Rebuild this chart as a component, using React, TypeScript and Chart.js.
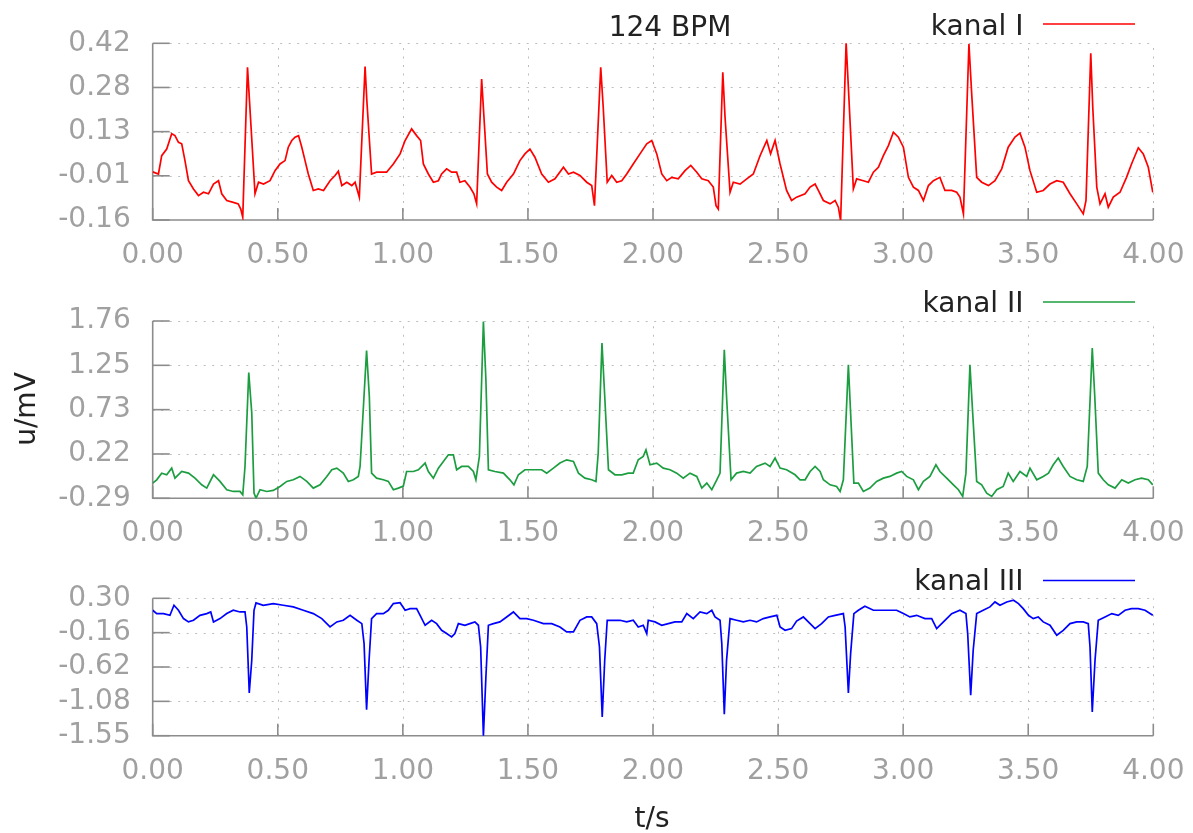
import React, { useEffect, useRef } from 'react';
import { Chart, registerables } from 'chart.js';

Chart.register(...registerables);

// ---------- data ----------
const xTickValues = [0, 0.5, 1, 1.5, 2, 2.5, 3, 3.5, 4];
const xTickLabels = ['0.00', '0.50', '1.00', '1.50', '2.00', '2.50', '3.00', '3.50', '4.00'];

const t1 = [0.000,0.023,0.036,0.056,0.076,0.089,0.103,0.116,0.129,0.143,0.163,0.183,0.203,0.223,0.243,0.263,0.276,0.296,0.322,0.342,0.352,0.360,0.379,0.409,0.423,0.443,0.469,0.489,0.509,0.529,0.542,0.556,0.569,0.583,0.596,0.609,0.622,0.642,0.662,0.683,0.709,0.729,0.742,0.756,0.776,0.796,0.809,0.826,0.849,0.856,0.875,0.895,0.935,0.962,0.989,1.009,1.035,1.055,1.071,1.082,1.102,1.122,1.142,1.155,1.175,1.195,1.215,1.228,1.248,1.268,1.284,1.295,1.315,1.338,1.355,1.375,1.395,1.415,1.442,1.468,1.488,1.508,1.528,1.555,1.582,1.608,1.642,1.662,1.682,1.708,1.735,1.755,1.766,1.791,1.801,1.817,1.835,1.855,1.875,1.895,1.921,1.948,1.975,1.995,2.015,2.035,2.055,2.075,2.101,2.128,2.151,2.175,2.195,2.221,2.241,2.252,2.261,2.279,2.288,2.308,2.321,2.348,2.375,2.401,2.428,2.455,2.470,2.488,2.508,2.534,2.554,2.574,2.608,2.628,2.648,2.661,2.681,2.708,2.728,2.741,2.750,2.772,2.781,2.801,2.814,2.841,2.861,2.881,2.901,2.921,2.941,2.961,2.981,3.001,3.021,3.041,3.061,3.081,3.101,3.121,3.147,3.167,3.194,3.214,3.227,3.241,3.263,3.274,3.294,3.314,3.341,3.367,3.394,3.420,3.447,3.467,3.487,3.507,3.534,3.560,3.587,3.614,3.640,3.667,3.694,3.720,3.731,3.750,3.758,3.774,3.787,3.807,3.820,3.840,3.867,3.893,3.913,3.940,3.960,3.980,3.998];
const v1 = [0.000,-0.007,0.053,0.075,0.125,0.119,0.097,0.092,0.037,-0.029,-0.056,-0.078,-0.067,-0.072,-0.040,-0.029,-0.072,-0.094,-0.100,-0.105,-0.122,-0.149,0.343,-0.072,-0.034,-0.040,-0.029,0.004,0.026,0.037,0.081,0.103,0.114,0.119,0.081,0.037,-0.007,-0.061,-0.056,-0.061,-0.029,-0.012,0.002,-0.045,-0.034,-0.045,-0.034,-0.083,0.346,0.234,-0.007,-0.001,-0.001,0.026,0.059,0.103,0.141,0.119,0.103,0.026,-0.007,-0.034,-0.029,-0.007,0.010,-0.001,-0.001,-0.034,-0.029,-0.050,-0.072,-0.105,0.305,-0.007,-0.034,-0.050,-0.061,-0.034,-0.007,0.037,0.059,0.075,0.048,-0.007,-0.034,-0.023,0.015,-0.007,-0.001,-0.012,-0.034,-0.045,-0.111,0.343,0.212,-0.034,-0.012,-0.034,-0.029,-0.007,0.026,0.059,0.092,0.103,0.059,-0.007,-0.029,-0.018,-0.023,0.004,0.021,-0.001,-0.023,-0.029,-0.050,-0.111,-0.122,0.327,0.179,-0.067,-0.034,-0.040,-0.023,-0.007,0.053,0.103,0.059,0.103,0.026,-0.061,-0.094,-0.083,-0.072,-0.050,-0.040,-0.061,-0.094,-0.105,-0.094,-0.116,-0.160,0.425,0.278,-0.056,-0.023,-0.029,-0.034,-0.001,0.015,0.053,0.086,0.130,0.114,0.081,-0.018,-0.050,-0.061,-0.094,-0.045,-0.029,-0.018,-0.061,-0.061,-0.067,-0.083,-0.138,0.420,0.256,-0.018,-0.034,-0.045,-0.029,0.010,0.081,0.114,0.127,0.081,0.004,-0.067,-0.061,-0.040,-0.029,-0.034,-0.072,-0.105,-0.138,-0.094,0.389,0.212,-0.050,-0.105,-0.072,-0.116,-0.083,-0.067,-0.018,0.026,0.079,0.059,0.015,-0.067];

const t2 = [0.000,0.016,0.036,0.056,0.076,0.089,0.116,0.143,0.169,0.196,0.216,0.243,0.269,0.296,0.322,0.349,0.360,0.369,0.384,0.396,0.405,0.413,0.429,0.456,0.482,0.509,0.536,0.562,0.589,0.616,0.642,0.669,0.696,0.716,0.736,0.762,0.782,0.802,0.822,0.829,0.855,0.866,0.875,0.895,0.922,0.942,0.962,0.982,1.002,1.015,1.042,1.062,1.089,1.102,1.122,1.142,1.162,1.182,1.202,1.215,1.235,1.262,1.282,1.292,1.306,1.322,1.332,1.342,1.368,1.402,1.428,1.444,1.462,1.488,1.522,1.555,1.575,1.602,1.628,1.655,1.682,1.702,1.728,1.755,1.772,1.781,1.796,1.805,1.822,1.848,1.875,1.901,1.921,1.941,1.961,1.972,1.988,2.015,2.041,2.068,2.095,2.121,2.148,2.175,2.195,2.215,2.235,2.255,2.268,2.285,2.294,2.312,2.334,2.361,2.388,2.414,2.448,2.468,2.488,2.508,2.534,2.568,2.588,2.608,2.628,2.648,2.668,2.681,2.708,2.734,2.748,2.761,2.781,2.790,2.803,2.821,2.841,2.867,2.894,2.921,2.947,2.974,2.994,3.014,3.041,3.061,3.081,3.107,3.131,3.147,3.174,3.201,3.221,3.238,3.251,3.267,3.278,3.294,3.314,3.334,3.354,3.374,3.400,3.420,3.440,3.467,3.494,3.507,3.534,3.560,3.581,3.600,3.620,3.640,3.667,3.694,3.720,3.736,3.756,3.766,3.780,3.800,3.820,3.847,3.874,3.900,3.927,3.953,3.980,3.998];
const v2 = [-0.116,-0.078,-0.001,-0.020,0.057,-0.059,0.018,-0.001,-0.059,-0.136,-0.174,-0.020,-0.097,-0.193,-0.213,-0.213,-0.251,0.076,1.163,0.693,-0.232,-0.290,-0.193,-0.213,-0.201,-0.155,-0.097,-0.078,-0.039,-0.097,-0.174,-0.136,-0.039,0.038,0.057,-0.001,-0.097,-0.078,-0.039,0.076,1.417,0.885,-0.001,-0.059,-0.078,-0.097,-0.193,-0.174,-0.150,0.018,0.018,0.038,0.115,0.018,-0.059,0.057,0.134,0.211,0.211,0.038,0.076,0.076,0.018,-0.078,0.192,1.752,1.078,0.038,0.018,-0.001,-0.078,-0.136,-0.020,0.038,0.038,0.038,-0.001,0.057,0.115,0.153,0.134,-0.001,-0.059,-0.078,-0.097,0.230,1.502,1.001,0.038,-0.020,-0.020,-0.001,-0.001,0.153,0.192,0.269,0.096,0.115,0.057,0.038,-0.001,-0.059,-0.001,-0.039,-0.174,-0.116,-0.193,-0.078,-0.001,1.425,0.885,-0.078,-0.001,0.018,-0.001,0.076,0.115,0.076,0.173,0.057,0.038,-0.020,-0.078,-0.078,0.018,0.076,0.018,-0.078,-0.136,-0.155,-0.213,-0.078,1.251,0.693,-0.116,-0.116,-0.213,-0.174,-0.097,-0.059,-0.039,-0.001,0.018,-0.039,-0.078,-0.193,-0.097,-0.039,0.096,0.018,-0.059,-0.136,-0.193,-0.270,-0.001,1.251,0.693,-0.097,-0.136,-0.232,-0.270,-0.193,-0.155,-0.001,-0.097,0.018,-0.039,0.057,-0.078,-0.039,-0.001,0.096,0.173,0.076,-0.039,-0.078,-0.097,0.076,1.444,0.885,-0.001,-0.078,-0.136,-0.174,-0.078,-0.116,-0.078,-0.059,-0.078,-0.136];

const t3 = [0.000,0.016,0.043,0.069,0.085,0.103,0.123,0.143,0.163,0.189,0.216,0.232,0.243,0.269,0.296,0.322,0.349,0.369,0.376,0.386,0.396,0.405,0.413,0.442,0.482,0.522,0.562,0.602,0.642,0.676,0.709,0.736,0.762,0.789,0.816,0.836,0.845,0.855,0.865,0.875,0.895,0.922,0.942,0.962,0.989,1.009,1.029,1.055,1.069,1.089,1.115,1.135,1.155,1.175,1.195,1.208,1.222,1.248,1.268,1.288,1.302,1.311,1.322,1.332,1.342,1.362,1.388,1.415,1.442,1.468,1.495,1.522,1.562,1.595,1.628,1.655,1.682,1.708,1.735,1.755,1.775,1.786,1.797,1.807,1.817,1.841,1.868,1.895,1.921,1.941,1.961,1.975,1.981,2.008,2.035,2.061,2.088,2.115,2.135,2.161,2.188,2.215,2.235,2.248,2.268,2.275,2.285,2.294,2.308,2.334,2.361,2.388,2.414,2.441,2.468,2.495,2.508,2.528,2.554,2.574,2.601,2.621,2.648,2.674,2.701,2.728,2.761,2.768,2.781,2.790,2.803,2.821,2.847,2.881,2.914,2.947,2.974,3.001,3.027,3.054,3.087,3.114,3.134,3.161,3.194,3.227,3.251,3.258,3.270,3.280,3.294,3.320,3.347,3.367,3.387,3.414,3.441,3.461,3.480,3.501,3.520,3.540,3.560,3.587,3.614,3.640,3.667,3.694,3.720,3.740,3.747,3.756,3.767,3.780,3.807,3.834,3.860,3.887,3.913,3.940,3.967,3.998];
const v3 = [0.143,0.098,0.098,0.075,0.210,0.143,0.031,-0.014,0.008,0.075,0.098,0.120,-0.014,0.031,0.098,0.143,0.120,0.120,-0.082,-0.971,-0.531,0.143,0.242,0.210,0.233,0.210,0.188,0.143,0.098,0.031,-0.082,-0.014,0.008,0.075,0.008,-0.037,-0.306,-1.195,-0.531,0.031,0.098,0.098,0.143,0.233,0.245,0.143,0.165,0.165,0.075,-0.059,0.008,-0.037,-0.127,-0.171,-0.216,-0.171,-0.037,-0.059,-0.037,-0.014,-0.059,-0.351,-1.550,-0.755,-0.059,-0.037,-0.014,0.053,0.120,0.031,0.031,0.008,-0.037,-0.037,-0.082,-0.149,-0.149,0.008,0.053,0.053,-0.037,-0.351,-1.294,-0.531,0.008,0.008,0.008,-0.014,0.008,-0.082,-0.059,-0.171,0.008,-0.014,-0.059,-0.037,-0.014,-0.014,0.098,0.031,0.120,0.098,0.143,0.053,0.008,-0.306,-1.258,-0.531,0.031,0.008,-0.014,0.008,-0.014,0.031,0.053,0.075,-0.082,-0.127,-0.104,-0.003,0.053,-0.014,-0.104,-0.037,0.053,0.075,0.098,-0.082,-0.971,-0.441,0.098,0.143,0.197,0.143,0.143,0.143,0.143,0.098,0.053,0.075,0.031,0.031,-0.104,-0.014,0.098,0.143,0.098,-0.171,-1.002,-0.396,0.098,0.143,0.188,0.255,0.210,0.255,0.278,0.233,0.165,0.075,0.031,0.053,-0.014,-0.059,-0.194,-0.127,-0.037,-0.014,-0.014,-0.037,-0.351,-1.227,-0.531,0.008,0.053,0.098,0.075,0.143,0.165,0.165,0.143,0.075];

const yRange1 = [-0.158, 0.422];
const yTickLabels1 = ['-0.16', '-0.01', '0.13', '0.28', '0.42'];
const yRange2 = [-0.292, 1.758];
const yTickLabels2 = ['-0.29', '0.22', '0.73', '1.25', '1.76'];
const yRange3 = [-1.546, 0.304];
const yTickLabels3 = ['-1.55', '-1.08', '-0.62', '-0.16', '0.30'];

const seriesNames = ['kanal I', 'kanal II', 'kanal III'];
const titleText = '124 BPM';
const yTitle = 'u/mV';
const xTitle = 't/s';

// ---------- style / layout ----------
const W = 1193;
const H = 833;
const FONT = "'DejaVu Sans', sans-serif";
const FS = 28;
const TICK_COLOR = '#a0a0a0';
const TEXT_COLOR = '#222222';
const AXIS_COLOR = '#8c8c8c';
const GRID_COLOR = '#bdbdbd';
const LEFT = 152.7;
const RIGHT = 1153.3;
const XAXIS_H = 60;

type Panel = {
  t: number[]; v: number[]; range: number[]; labels: string[];
  color: string; name: string; top: number; bottom: number;
  legendBase: number; legendLine: number;
  extra: 'title' | 'ytitle' | 'xtitle';
};

const panels: Panel[] = [
  { t: t1, v: v1, range: yRange1, labels: yTickLabels1, color: '#ff0000', name: seriesNames[0], top: 43.3, bottom: 220, legendBase: 35, legendLine: 24, extra: 'title' },
  { t: t2, v: v2, range: yRange2, labels: yTickLabels2, color: '#1c9e40', name: seriesNames[1], top: 321, bottom: 498.3, legendBase: 311.5, legendLine: 302, extra: 'ytitle' },
  { t: t3, v: v3, range: yRange3, labels: yTickLabels3, color: '#0000ff', name: seriesNames[2], top: 598.3, bottom: 735.7, legendBase: 589.5, legendLine: 580.5, extra: 'xtitle' },
];

const framePlugin = {
  id: 'gnuFrame',
  beforeDatasetsDraw(chart: any) {
    const { ctx, chartArea: a } = chart;
    const x = chart.scales.x;
    const y = chart.scales.y;
    ctx.save();
    ctx.strokeStyle = GRID_COLOR;
    ctx.lineWidth = 1;
    ctx.setLineDash([2, 6.5]);
    x.ticks.forEach((tk: any) => {
      if (tk.value === x.min) return;
      const px = Math.round(x.getPixelForValue(tk.value)) + 0.5;
      ctx.beginPath(); ctx.moveTo(px, a.bottom); ctx.lineTo(px, a.top); ctx.stroke();
    });
    y.ticks.forEach((tk: any) => {
      if (tk.value === y.min) return;
      const py = Math.round(y.getPixelForValue(tk.value)) + 0.5;
      ctx.beginPath(); ctx.moveTo(a.left, py); ctx.lineTo(a.right, py); ctx.stroke();
    });
    ctx.setLineDash([]);
    ctx.strokeStyle = AXIS_COLOR;
    ctx.lineWidth = 1.6;
    ctx.beginPath();
    ctx.moveTo(a.left, a.top);
    ctx.lineTo(a.left, a.bottom);
    ctx.lineTo(a.right, a.bottom);
    ctx.stroke();
    x.ticks.forEach((tk: any) => {
      const px = x.getPixelForValue(tk.value);
      ctx.beginPath(); ctx.moveTo(px, a.bottom); ctx.lineTo(px, a.bottom - 12); ctx.stroke();
    });
    y.ticks.forEach((tk: any) => {
      const py = y.getPixelForValue(tk.value);
      ctx.beginPath(); ctx.moveTo(a.left, py); ctx.lineTo(a.left + 17, py); ctx.stroke();
    });
    ctx.restore();
  },
};

function makeTextPlugin(p: Panel) {
  return {
    id: 'gnuText',
    afterDraw(chart: any) {
      const { ctx } = chart;
      ctx.save();
      ctx.font = `${FS}px ${FONT}`;
      ctx.fillStyle = TEXT_COLOR;
      ctx.textBaseline = 'alphabetic';
      ctx.textAlign = 'right';
      ctx.fillText(p.name, 1023.5, p.legendBase);
      ctx.strokeStyle = p.color;
      ctx.lineWidth = 1.5;
      ctx.beginPath(); ctx.moveTo(1043, p.legendLine); ctx.lineTo(1135, p.legendLine); ctx.stroke();
      if (p.extra === 'title') {
        ctx.textAlign = 'center';
        ctx.fillText(titleText, 670, 36);
      } else if (p.extra === 'ytitle') {
        ctx.translate(35, 409);
        ctx.rotate(-Math.PI / 2);
        ctx.textAlign = 'center';
        ctx.fillText(yTitle, 0, 0);
      } else if (p.extra === 'xtitle') {
        ctx.textAlign = 'center';
        ctx.fillText(xTitle, 652, 827);
      }
      ctx.restore();
    },
  };
}

function buildConfig(p: Panel): any {
  const [ymin, ymax] = p.range;
  const n = p.labels.length;
  return {
    type: 'line',
    data: {
      datasets: [{
        data: p.t.map((t, i) => ({ x: t, y: p.v[i] })),
        borderColor: p.color,
        borderWidth: 1.7,
        pointRadius: 0,
        tension: 0,
        fill: false,
      }],
    },
    options: {
      animation: false,
      responsive: false,
      events: [],
      layout: { padding: { left: 0, right: W - RIGHT, top: p.top, bottom: H - p.bottom - XAXIS_H } },
      plugins: { legend: { display: false }, tooltip: { enabled: false }, title: { display: false } },
      scales: {
        x: {
          type: 'linear', min: 0, max: 4,
          grid: { display: false, drawTicks: false },
          border: { display: false },
          afterBuildTicks: (s: any) => { s.ticks = xTickValues.map((v) => ({ value: v })); },
          afterFit: (s: any) => { s.height = XAXIS_H; s.paddingLeft = 0; s.paddingRight = 0; },
          ticks: {
            callback: (_v: any, i: number) => xTickLabels[i],
            color: TICK_COLOR, font: { family: FONT, size: FS }, padding: 19,
            maxRotation: 0, autoSkip: false,
          },
        },
        y: {
          type: 'linear', min: ymin, max: ymax,
          grid: { display: false, drawTicks: false },
          border: { display: false },
          afterBuildTicks: (s: any) => {
            s.ticks = p.labels.map((_l, i) => ({ value: ymin + (i * (ymax - ymin)) / (n - 1) }));
          },
          afterFit: (s: any) => { s.width = LEFT; s.paddingTop = 0; s.paddingBottom = 0; },
          ticks: {
            callback: (_v: any, i: number) => p.labels[i],
            color: TICK_COLOR, font: { family: FONT, size: FS }, padding: 22, autoSkip: false,
          },
        },
      },
    },
    plugins: [framePlugin, makeTextPlugin(p)],
  };
}

function PanelChart({ p }: { p: Panel }) {
  const ref = useRef<HTMLCanvasElement | null>(null);
  useEffect(() => {
    if (!ref.current) return;
    const chart = new Chart(ref.current, buildConfig(p));
    return () => chart.destroy();
  }, [p]);
  return (
    <canvas
      ref={ref}
      width={W}
      height={H}
      style={{ position: 'absolute', left: 0, top: 0, width: W, height: H, display: 'block' }}
    />
  );
}

export default function App() {
  useEffect(() => {
    document.body.style.margin = '0';
    document.body.style.background = '#ffffff';
  }, []);
  return (
    <div style={{ position: 'absolute', left: 0, top: 0, width: W, height: H, background: '#ffffff', overflow: 'hidden' }}>
      {panels.map((p, i) => (
        <PanelChart key={i} p={p} />
      ))}
    </div>
  );
}
